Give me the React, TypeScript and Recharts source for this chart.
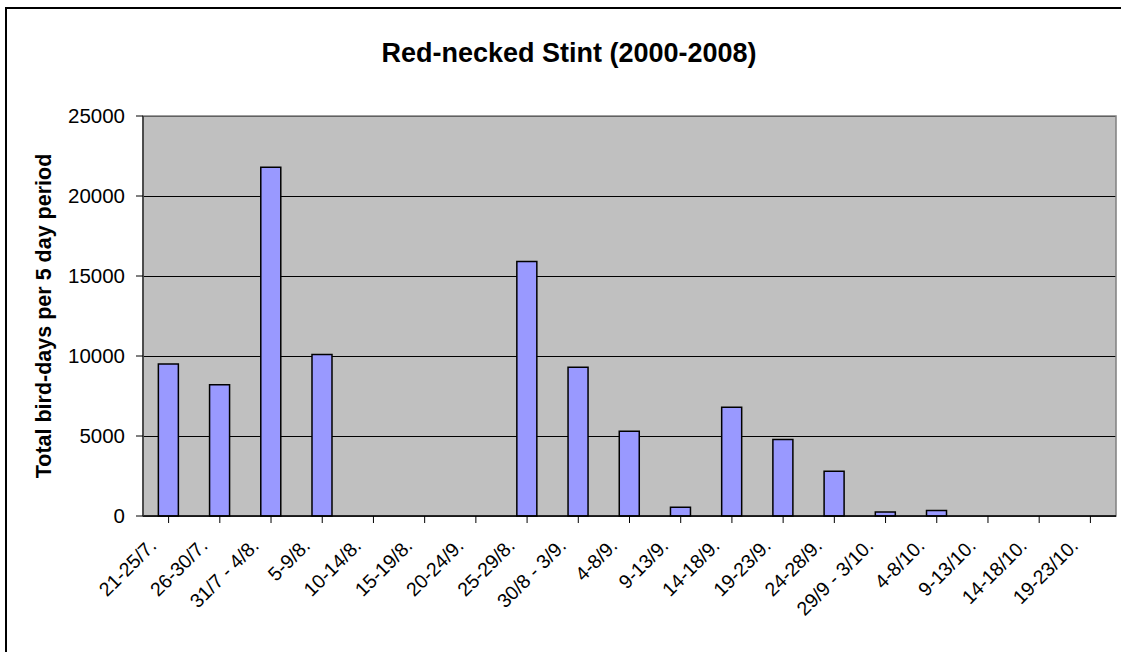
import { BarChart, Bar, XAxis, YAxis, CartesianGrid, ReferenceArea } from 'recharts'

const periods = [
  '21-25/7.',
  '26-30/7.',
  '31/7 - 4/8.',
  '5-9/8.',
  '10-14/8.',
  '15-19/8.',
  '20-24/9.',
  '25-29/8.',
  '30/8 - 3/9.',
  '4-8/9.',
  '9-13/9.',
  '14-18/9.',
  '19-23/9.',
  '24-28/9.',
  '29/9 - 3/10.',
  '4-8/10.',
  '9-13/10.',
  '14-18/10.',
  '19-23/10.',
]

const birdDays = [
  9500, 8200, 21800, 10100, 0, 0, 0, 15900, 9300, 5300, 550, 6800, 4780, 2800, 250, 350, 0, 0, 0,
]

const yTicks = [0, 5000, 10000, 15000, 20000, 25000]

const FONT = '"Liberation Sans", Arial, sans-serif'

const data = periods.map((p, i) => ({ period: p, total: birdDays[i] }))

function PeriodTick({ x, y, payload }: any) {
  const ax = x - 11
  const ay = y + 22
  return (
    <text
      x={ax}
      y={ay}
      transform={`rotate(-45, ${ax}, ${ay})`}
      textAnchor="end"
      fontSize={19.5}
      fontFamily={FONT}
      fill="#000"
    >
      {payload.value}
    </text>
  )
}

export default function App() {
  return (
    <div
      style={{
        position: 'absolute',
        left: 0,
        top: 0,
        width: 1121,
        height: 652,
        overflow: 'hidden',
        background: '#fff',
      }}
    >
      <BarChart
        width={1121}
        height={652}
        data={data}
        margin={{ top: 116, right: 5, bottom: 0, left: 0 }}
        barCategoryGap="30%"
        style={{ position: 'absolute', left: 0, top: 0 }}
      >
        <CartesianGrid
          vertical={false}
          stroke="#000"
          fill="#c0c0c0"
          fillOpacity={1}
          shapeRendering="crispEdges"
        />
        <ReferenceArea y1={0} y2={25000} stroke="#808080" strokeWidth={1.5} fill="none" />
        <XAxis
          dataKey="period"
          height={136}
          interval={0}
          tickSize={7}
          tickLine={{ stroke: '#000' }}
          axisLine={{ stroke: '#000', strokeWidth: 1.5 }}
          tick={<PeriodTick />}
        />
        <YAxis
          width={143}
          domain={[0, 25000]}
          ticks={yTicks}
          interval={0}
          tickSize={7}
          tickMargin={11}
          tickLine={{ stroke: '#000' }}
          axisLine={{ stroke: '#333', strokeWidth: 1.5 }}
          tick={{ fill: '#000', fontSize: 20.5, fontFamily: FONT }}
        />
        <Bar
          dataKey="total"
          fill="#9999ff"
          stroke="#000"
          strokeWidth={1.5}
          isAnimationActive={false}
        />
      </BarChart>
      <svg
        width={1121}
        height={652}
        style={{ position: 'absolute', left: 0, top: 0, pointerEvents: 'none' }}
      >
        {/* outer chart frame, runs off the right and bottom edges */}
        <path d="M6,652 V8 H1121" fill="none" stroke="#000" strokeWidth={2} />
        <text
          x={569}
          y={62}
          textAnchor="middle"
          fontSize={27}
          fontWeight="bold"
          fontFamily={FONT}
          fill="#000"
        >
          Red-necked Stint (2000-2008)
        </text>
        <text
          x={51}
          y={316}
          transform="rotate(-90, 51, 316)"
          textAnchor="middle"
          fontSize={21.5}
          fontWeight="bold"
          fontFamily={FONT}
          fill="#000"
        >
          Total bird-days per 5 day period
        </text>
      </svg>
    </div>
  )
}
